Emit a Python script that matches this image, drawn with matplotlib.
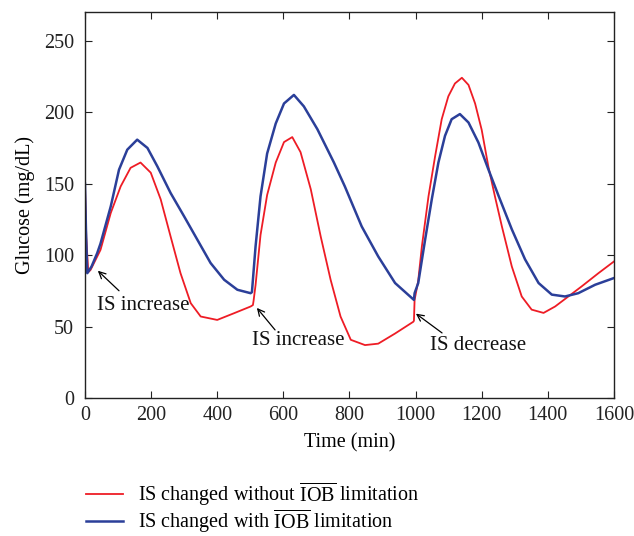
import matplotlib
matplotlib.use("Agg")
import matplotlib.pyplot as plt

plt.rcParams['font.family'] = ['Liberation Serif', 'DejaVu Serif']
plt.rcParams['mathtext.fontset'] = 'custom'
plt.rcParams['mathtext.rm'] = 'Liberation Serif'
plt.rcParams['mathtext.it'] = 'Liberation Serif:italic'
plt.rcParams['mathtext.bf'] = 'Liberation Serif:bold'

# Red: IS changed without IOB limitation
t_red = [0, 4, 10, 17, 47, 78, 108, 138, 168, 199, 229, 259, 289, 320, 350, 400,
         451, 501, 508, 510, 516, 531, 551, 577, 602, 627, 652, 683, 713, 743, 773,
         804, 847, 887, 938, 993, 995, 997, 1008, 1019, 1039, 1059, 1079, 1099, 1119,
         1140, 1160, 1180, 1200, 1220, 1240, 1261, 1291, 1321, 1351, 1387, 1422,
         1462, 1502, 1553, 1600]
g_red = [150, 112, 88, 89.6, 103.6, 129.4, 148, 161, 164.7, 157.6, 139, 113, 87.3, 66.3, 57, 54.6,
         59.3, 64, 65, 68, 79, 114, 142, 164.7, 179, 182.5, 172, 146, 113, 82.7, 57,
         40.7, 37, 38, 45.1, 53.3, 54, 68.6, 82, 106, 141, 169, 195, 211, 220,
         224, 219, 206, 187.5, 162, 141, 120, 92, 71, 61.8, 59.5, 64,
         71, 78, 87.3, 95.5]

# Blue: IS changed with IOB limitation
t_blue = [0, 3, 7, 20, 37, 47, 78, 103, 128, 158, 189, 219, 259, 300, 340, 380, 421,
          461, 501, 505, 516, 531, 551, 577, 602, 632, 662, 703, 753, 786, 837, 887,
          938, 995, 997, 1008, 1029, 1049, 1069, 1089, 1109, 1134, 1160, 1190, 1220,
          1251, 1291, 1331, 1372, 1412, 1452, 1492, 1543, 1600]
g_blue = [150, 118, 87.3, 92, 101.3, 108, 134, 159.7, 173.7, 180.7, 174.9, 162, 143.4, 127, 110.7, 94.4, 82.7,
          75.7, 73.3, 74, 106, 141, 171, 192, 206, 212, 204, 188, 164.7, 148, 120, 99,
          80.4, 68.6, 73.3, 80.4, 111, 139, 164.7, 183.4, 195, 198.6, 192.7, 178.7, 160,
          141.4, 118, 97, 80.4, 72.3, 71, 73.3, 79.2, 83.9]

x_ticks = [0, 200, 400, 600, 800, 1000, 1200, 1400, 1600]
y_ticks = [0, 50, 100, 150, 200, 250]

label_red = r'IS changed without $\overline{\mathrm{IOB}}$ limitation'
label_blue = r'IS changed with $\overline{\mathrm{IOB}}$ limitation'

annotations = [
    # text, text pos, arrow tip, arrow tail
    ("IS increase", (36, 64.4), (39, 89), (103, 75)),
    ("IS increase", (505, 40), (520, 63), (575, 47.6)),
    ("IS decrease", (1043, 36.4), (1001, 59), (1080, 45.5)),
]

fig = plt.figure(figsize=(6.34, 5.36), dpi=100)
ax = fig.add_axes([0.134, 0.2575, 0.8344, 0.7201])

l1, = ax.plot(t_red, g_red, color='#ee1c25', lw=1.3, label=label_red)
l2, = ax.plot(t_blue, g_blue, color='#2b3f99', lw=1.8, label=label_blue)

ax.set_xlim(0, 1600)
ax.set_ylim(0, 270)
ax.set_xticks(x_ticks)
ax.set_yticks(y_ticks)
ax.tick_params(direction='in', length=5, width=0.8, top=True, right=True,
               labelsize=14.5, colors='#222222')
ax.tick_params(axis='y', pad=8)
ax.tick_params(axis='x', pad=6)
for s in ax.spines.values():
    s.set_linewidth(1.0)
    s.set_color('#222222')

ax.set_xlabel('Time (min)', fontsize=14.5, labelpad=6)
ax.set_ylabel('Glucose (mg/dL)', fontsize=14.5, labelpad=6)

for txt, tpos, tip, tail in annotations:
    ax.text(tpos[0], tpos[1], txt, fontsize=15, ha='left', va='center', color='#111111')
    ax.annotate('', xy=tip, xytext=tail,
                arrowprops=dict(arrowstyle='->', color='black', lw=0.9,
                                shrinkA=0, shrinkB=0, mutation_scale=12))

fig.legend(handles=[l1, l2], loc='upper left', bbox_to_anchor=(0.136, 0.104),
           frameon=False, fontsize=14.5, handlelength=1.85, handletextpad=0.7,
           labelspacing=-0.05, borderaxespad=0, borderpad=0)

fig.savefig('out.png', dpi=100)
